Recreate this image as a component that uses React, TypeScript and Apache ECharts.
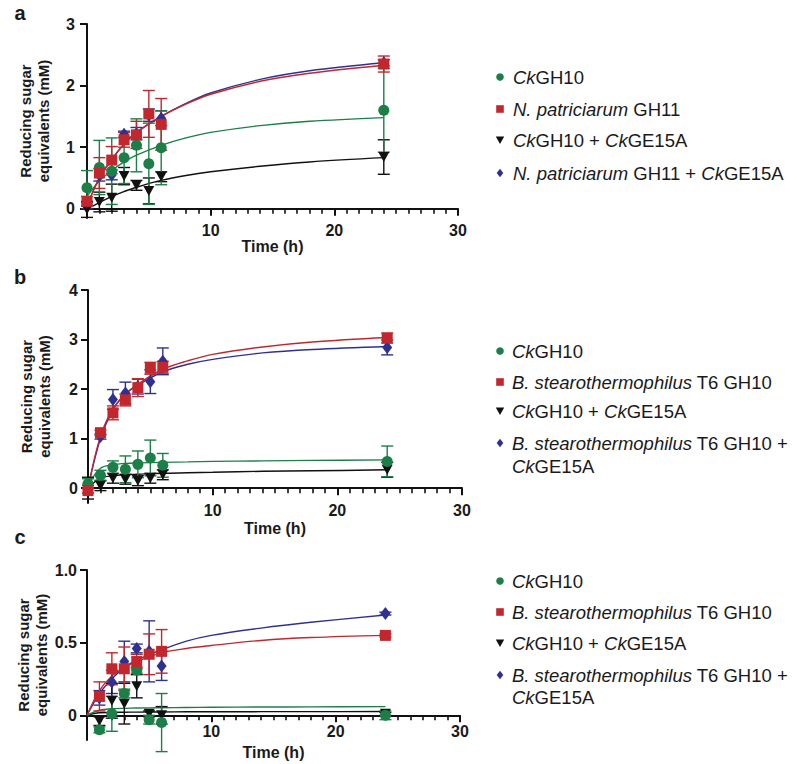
import React, { useEffect, useRef } from "react";
import * as echarts from "echarts";

// ---------- data ----------
const T_AB = [0, 1, 2, 3, 4, 5, 6, 24];
const T_C = [1, 2, 3, 4, 5, 6, 24];
const FIT_T = [0, 1, 2, 3, 4, 6, 8, 10, 14, 18, 24];

// Panel a
const A_CK = [0.34, 0.67, 0.61, 0.83, 1.03, 0.73, 0.99, 1.6];
const A_CK_ERR = [0.28, 0.44, 0.54, 0.42, 0.43, 0.66, 0.6, 0.68];
const A_NP = [0.12, 0.58, 0.79, 1.12, 1.2, 1.54, 1.37, 2.35];
const A_NP_ERR = [0.08, 0.25, 0.22, 0.12, 0.22, 0.38, 0.42, 0.13];
const A_CKGE = [-0.01, 0.11, 0.18, 0.53, 0.38, 0.29, 0.52, 0.84];
const A_CKGE_ERR = [0.13, 0.16, 0.22, 0.14, 0.08, 0.21, 0.08, 0.28];
const A_NPGE = [0.05, 0.55, 0.55, 1.21, 1.22, 1.52, 1.47, 2.37];
const A_NPGE_ERR = [0.05, 0.1, 0.08, 0.05, 0.1, 0.1, 0.12, 0.05];
const A_FIT_CK = [0.2, 0.45, 0.62, 0.76, 0.87, 1.03, 1.15, 1.24, 1.35, 1.42, 1.48];
const A_FIT_NP = [0.05, 0.5, 0.8, 1.05, 1.24, 1.5, 1.7, 1.86, 2.07, 2.2, 2.33];
const A_FIT_CKGE = [0, 0.1, 0.2, 0.28, 0.35, 0.46, 0.54, 0.6, 0.69, 0.76, 0.83];
const A_FIT_NPGE = [0.05, 0.5, 0.8, 1.05, 1.24, 1.5, 1.71, 1.88, 2.1, 2.24, 2.37];

// Panel b
const B_CK = [0.09, 0.26, 0.42, 0.38, 0.48, 0.61, 0.46, 0.54];
const B_CK_ERR = [0.1, 0.1, 0.13, 0.27, 0.27, 0.36, 0.24, 0.31];
const B_BS = [-0.05, 1.12, 1.52, 1.78, 2.03, 2.42, 2.44, 3.03];
const B_BS_ERR = [0.05, 0.05, 0.14, 0.12, 0.18, 0.12, 0.12, 0.1];
const B_CKGE = [0.0, 0.05, 0.2, 0.18, 0.15, 0.2, 0.27, 0.37];
const B_CKGE_ERR = [0.22, 0.1, 0.1, 0.1, 0.1, 0.1, 0.1, 0.15];
const B_BSGE = [0.03, 1.04, 1.79, 1.92, 2.05, 2.15, 2.56, 2.84];
const B_BSGE_ERR = [0.03, 0.05, 0.2, 0.22, 0.15, 0.24, 0.27, 0.15];
const B_FIT_CK = [0.05, 0.4, 0.47, 0.5, 0.51, 0.52, 0.53, 0.54, 0.55, 0.56, 0.57];
const B_FIT_BS = [0, 1.05, 1.6, 1.9, 2.1, 2.4, 2.57, 2.7, 2.85, 2.95, 3.04];
const B_FIT_CKGE = [0, 0.2, 0.25, 0.27, 0.28, 0.3, 0.31, 0.32, 0.34, 0.35, 0.37];
const B_FIT_BSGE = [0, 1.0, 1.58, 1.9, 2.08, 2.35, 2.5, 2.6, 2.73, 2.8, 2.86];

// Panel c
const C_CK = [-0.1, 0.01, 0.15, 0.31, -0.03, -0.05, 0.0];
const C_CK_ERR = [0.02, 0.12, 0.03, 0.02, 0.03, 0.2, 0.03];
const C_BS = [0.13, 0.32, 0.32, 0.37, 0.42, 0.44, 0.55];
const C_BS_ERR = [0.1, 0.11, 0.15, 0.05, 0.14, 0.15, 0.01];
const C_CKGE = [-0.04, 0.1, 0.08, 0.2, 0.01, 0.0, 0.01];
const C_CKGE_ERR = [0.03, 0.12, 0.14, 0.08, 0.02, 0.06, 0.01];
const C_BSGE = [0.12, 0.23, 0.37, 0.46, 0.44, 0.34, 0.7];
const C_BSGE_ERR = [0.05, 0.08, 0.14, 0.03, 0.21, 0.1, 0.01];
const C_FIT_CK = [0, 0.035, 0.045, 0.048, 0.05, 0.052, 0.054, 0.055, 0.057, 0.058, 0.06];
const C_FIT_BS = [0, 0.17, 0.27, 0.33, 0.37, 0.43, 0.46, 0.48, 0.515, 0.535, 0.55];
const C_FIT_CKGE = [0, 0.018, 0.02, 0.021, 0.022, 0.023, 0.024, 0.024, 0.025, 0.025, 0.026];
const C_FIT_BSGE = [0, 0.15, 0.25, 0.33, 0.38, 0.45, 0.51, 0.55, 0.6, 0.64, 0.69];

const Y_TICKS_A = [0, 1, 2, 3];
const Y_TICKS_B = [0, 1, 2, 3, 4];
const Y_TICKS_C = [0, 0.5, 1.0];
const X_MAX = 30;

// ---------- styles ----------
const GREEN = "#1b7f47";
const RED = "#c1272d";
const BLUE = "#2e3192";
const BLACK = "#111111";
const FONT = "'Liberation Sans', Arial, Helvetica, sans-serif";

type Grp = {
  key: string;
  color: string;
  symbol: string;
  size: any;
  rotate: number;
  t: number[];
  y: number[];
  err: number[];
  fit: number[];
  z: number;
};

function panelGroups(
  t: number[],
  ck: number[], ckE: number[], ckF: number[],
  en: number[], enE: number[], enF: number[],
  ge: number[], geE: number[], geF: number[],
  enge: number[], engeE: number[], engeF: number[]
): Grp[] {
  return [
    { key: "enge", color: BLUE, symbol: "diamond", size: [10, 13], rotate: 0, t, y: enge, err: engeE, fit: engeF, z: 0 },
    { key: "ge", color: BLACK, symbol: "triangle", size: [11, 10], rotate: 180, t, y: ge, err: geE, fit: geF, z: 1 },
    { key: "ck", color: GREEN, symbol: "circle", size: 11, rotate: 0, t, y: ck, err: ckE, fit: ckF, z: 2 },
    { key: "en", color: RED, symbol: "rect", size: 11, rotate: 0, t, y: en, err: enE, fit: enF, z: 3 },
  ];
}

const PANELS = [
  panelGroups(T_AB, A_CK, A_CK_ERR, A_FIT_CK, A_NP, A_NP_ERR, A_FIT_NP, A_CKGE, A_CKGE_ERR, A_FIT_CKGE, A_NPGE, A_NPGE_ERR, A_FIT_NPGE),
  panelGroups(T_AB, B_CK, B_CK_ERR, B_FIT_CK, B_BS, B_BS_ERR, B_FIT_BS, B_CKGE, B_CKGE_ERR, B_FIT_CKGE, B_BSGE, B_BSGE_ERR, B_FIT_BSGE),
  panelGroups(T_C, C_CK, C_CK_ERR, C_FIT_CK, C_BS, C_BS_ERR, C_FIT_BS, C_CKGE, C_CKGE_ERR, C_FIT_CKGE, C_BSGE, C_BSGE_ERR, C_FIT_BSGE),
];

const GRIDS = [
  { left: 87, top: 24, width: 371, height: 194 },
  { left: 88, top: 290, width: 374, height: 213 },
  { left: 87, top: 570, width: 373, height: 170 },
];
const Y_RANGE = [
  { min: -0.15, max: 3, ticks: Y_TICKS_A, labelMargin: 12 },
  { min: -0.3, max: 4, ticks: Y_TICKS_B, labelMargin: 10 },
  { min: -0.17, max: 1.0, ticks: Y_TICKS_C, labelMargin: 10 },
];
const X_LAYOUT = [
  { labelMargin: 4, nameGap: 14 },
  { labelMargin: -1, nameGap: 17 },
  { labelMargin: -17, nameGap: 4 },
];

function buildSeries() {
  const series: any[] = [];
  PANELS.forEach((groups, pi) => {
    groups.forEach((g) => {
      series.push({
        type: "line",
        name: `${pi}-${g.key}-fit`,
        xAxisIndex: pi,
        yAxisIndex: pi,
        data: FIT_T.map((t, i) => [t, g.fit[i]]),
        smooth: 0.35,
        showSymbol: false,
        symbol: "none",
        lineStyle: { color: g.color, width: 1.4 },
        z: 2,
        silent: true,
      });
    });
    groups.forEach((g) => {
      series.push({
        type: "custom",
        name: `${pi}-${g.key}-err`,
        xAxisIndex: pi,
        yAxisIndex: pi,
        data: g.t.map((t, i) => [t, g.y[i], g.err[i]]),
        encode: { x: 0, y: 1 },
        clip: false,
        z: 3,
        silent: true,
        renderItem: (params: any, api: any) => {
          const x = api.value(0);
          const y = api.value(1);
          const e = api.value(2);
          const top = api.coord([x, y + e]);
          const bot = api.coord([x, y - e]);
          const cw = 6;
          const st = { stroke: g.color, lineWidth: 1.4 };
          return {
            type: "group",
            children: [
              { type: "line", shape: { x1: top[0], y1: top[1], x2: bot[0], y2: bot[1] }, style: st },
              { type: "line", shape: { x1: top[0] - cw, y1: top[1], x2: top[0] + cw, y2: top[1] }, style: st },
              { type: "line", shape: { x1: bot[0] - cw, y1: bot[1], x2: bot[0] + cw, y2: bot[1] }, style: st },
            ],
          };
        },
      });
    });
    groups.forEach((g) => {
      series.push({
        type: "scatter",
        name: `${pi}-${g.key}-pts`,
        xAxisIndex: pi,
        yAxisIndex: pi,
        data: g.t.map((t, i) => [t, g.y[i]]),
        symbol: g.symbol,
        symbolSize: g.size,
        symbolRotate: g.rotate,
        itemStyle: { color: g.color, opacity: 1 },
        z: 4 + g.z,
        silent: true,
      });
    });
  });
  return series;
}

// ---------- legends ----------
const LEGEND_A = [
  [["i", "Ck"], ["n", "GH10"]],
  [["i", "N. patriciarum"], ["n", " GH11"]],
  [["i", "Ck"], ["n", "GH10 + "], ["i", "Ck"], ["n", "GE15A"]],
  [["i", "N. patriciarum"], ["n", " GH11 + "], ["i", "Ck"], ["n", "GE15A"]],
];
const LEGEND_BC = [
  [["i", "Ck"], ["n", "GH10"]],
  [["i", "B. stearothermophilus"], ["n", " T6 GH10"]],
  [["i", "Ck"], ["n", "GH10 + "], ["i", "Ck"], ["n", "GE15A"]],
  [["i", "B. stearothermophilus"], ["n", " T6 GH10 +"]],
  [["i", "Ck"], ["n", "GE15A"]],
];
const LEGEND_KINDS_A = ["circle", "rect", "tri", "diamond"];
const LEGEND_KINDS_BC = ["circle", "rect", "tri", "diamond", ""];
const LEGEND_POS = [
  { x: 500, textX: 513, rows: [77, 109, 140, 173] },
  { x: 500, textX: 512, rows: [351, 382, 411, 443, 466] },
  { x: 500, textX: 512, rows: [581, 612, 643, 675, 697] },
];
const LEGEND_FS = 18.5;

function marker(kind: string, cx: number, cy: number): any {
  if (kind === "circle") return { type: "circle", shape: { cx, cy, r: 3.8 }, style: { fill: GREEN } };
  if (kind === "rect") return { type: "rect", shape: { x: cx - 3.8, y: cy - 3.8, width: 7.6, height: 7.6 }, style: { fill: RED } };
  if (kind === "tri")
    return { type: "polygon", shape: { points: [[cx - 4.2, cy - 3.5], [cx + 4.2, cy - 3.5], [cx, cy + 4]] }, style: { fill: BLACK } };
  if (kind === "diamond")
    return { type: "polygon", shape: { points: [[cx, cy - 4.2], [cx + 3.3, cy], [cx, cy + 4.2], [cx - 3.3, cy]] }, style: { fill: BLUE } };
  return null;
}

function buildGraphics() {
  const out: any[] = [];
  const rich = {
    i: { fontStyle: "italic", fontSize: LEGEND_FS, fontFamily: FONT, fill: "#1a1a1a" },
    n: { fontStyle: "normal", fontSize: LEGEND_FS, fontFamily: FONT, fill: "#1a1a1a" },
  };
  LEGEND_POS.forEach((pos, pi) => {
    const items = pi === 0 ? LEGEND_A : LEGEND_BC;
    const kinds = pi === 0 ? LEGEND_KINDS_A : LEGEND_KINDS_BC;
    items.forEach((parts, ri) => {
      const cy = pos.rows[ri];
      const m = marker(kinds[ri], pos.x, cy);
      if (m) out.push(m);
      out.push({
        type: "text",
        x: pos.textX,
        y: cy,
        style: {
          text: parts.map((p) => `{${p[0]}|${p[1]}}`).join(""),
          rich,
          fontSize: LEGEND_FS,
          fontFamily: FONT,
          verticalAlign: "middle",
          align: "left",
          fill: "#1a1a1a",
        },
      });
    });
  });
  const letters = [
    { t: "a", y: 13 },
    { t: "b", y: 277 },
    { t: "c", y: 537 },
  ];
  letters.forEach((l) => {
    out.push({
      type: "text",
      x: 20,
      y: l.y,
      style: { text: l.t, fontSize: 20, fontWeight: "bold", fontFamily: FONT, fill: "#1a1a1a", align: "center", verticalAlign: "middle" },
    });
  });
  return out;
}

function buildOption() {
  const axisFont = { fontSize: 16, fontWeight: "bold", fontFamily: FONT, color: "#1a1a1a" };
  return {
    animation: false,
    backgroundColor: "#ffffff",
    grid: GRIDS.map((g) => ({ ...g, containLabel: false, outerBoundsMode: "none" })),
    xAxis: GRIDS.map((_, i) => ({
      type: "value",
      gridIndex: i,
      min: 0,
      max: X_MAX,
      interval: 10,
      name: "Time (h)",
      nameLocation: "middle",
      nameGap: X_LAYOUT[i].nameGap,
      nameTextStyle: { fontSize: 16, fontWeight: "bold", fontFamily: FONT, color: "#1a1a1a" },
      axisLine: { show: true, onZero: true, lineStyle: { color: "#111", width: 2 } },
      axisTick: { show: true, length: 7, lineStyle: { color: "#111", width: 2 } },
      minorTick: { show: true, splitNumber: 10, length: 5, lineStyle: { color: "#111", width: 1.6 } },
      axisLabel: { ...axisFont, margin: X_LAYOUT[i].labelMargin, formatter: (v: number) => (v === 0 ? "" : String(v)) },
      splitLine: { show: false },
      minorSplitLine: { show: false },
    })),
    yAxis: GRIDS.map((_, i) => ({
      type: "value",
      gridIndex: i,
      min: Y_RANGE[i].min,
      max: Y_RANGE[i].max,
      name: "Reducing sugar\nequivalents (mM)",
      nameLocation: "middle",
      nameGap: 35,
      nameRotate: 90,
      nameTextStyle: { fontSize: 15, fontWeight: "bold", fontFamily: FONT, color: "#1a1a1a", lineHeight: 18 },
      axisLine: { show: true, onZero: false, lineStyle: { color: "#111", width: 2 } },
      axisTick: { show: true, length: 7, customValues: Y_RANGE[i].ticks, lineStyle: { color: "#111", width: 2 } },
      axisLabel: {
        ...axisFont,
        margin: Y_RANGE[i].labelMargin,
        customValues: Y_RANGE[i].ticks,
        formatter: (v: number) => (i === 2 ? (v === 0 ? "0" : v.toFixed(1)) : String(v)),
      },
      splitLine: { show: false },
    })),
    series: buildSeries(),
    graphic: buildGraphics(),
  };
}

export default function App() {
  const ref = useRef<HTMLDivElement>(null);
  useEffect(() => {
    if (!ref.current) return;
    const chart = echarts.init(ref.current, undefined, { renderer: "svg" });
    chart.setOption(buildOption() as any);
    return () => chart.dispose();
  }, []);
  return <div ref={ref} style={{ position: "absolute", left: 0, top: 0, width: 797, height: 764, background: "#fff" }} />;
}
